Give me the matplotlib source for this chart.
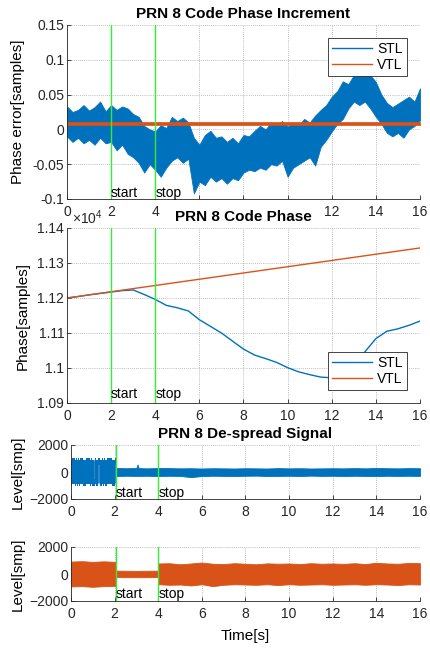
import numpy as np
import matplotlib
matplotlib.use('Agg')
import matplotlib.pyplot as plt
from matplotlib.lines import Line2D
from matplotlib.ticker import FuncFormatter

plt.rcParams['font.family'] = ['Liberation Sans', 'DejaVu Sans']
plt.rcParams['mathtext.fontset'] = 'custom'
plt.rcParams['mathtext.rm'] = 'Liberation Sans'

BLUE = '#0072BD'
ORANGE = '#D95319'
GREEN = '#33EE33'
AXC = '#262626'

# ---------------- data ----------------
start_t, stop_t = 2.0, 4.0
start_t_sig = 2.05

# Panel 1: code phase increment error envelope (STL) and VTL band
env_t = [0, 0.25, 0.5, 0.75, 1.0, 1.25, 1.5, 1.75, 2.0, 2.25, 2.5, 2.75, 3.0, 3.25,
         3.5, 3.75, 4.0, 4.25, 4.5, 4.75, 5.0, 5.25, 5.5, 5.75, 6.0, 6.25, 6.5, 6.75,
         7.0, 7.25, 7.5, 7.75, 8.0, 8.25, 8.5, 8.75, 9.0, 9.25, 9.5, 9.75, 10.0,
         10.25, 10.5, 10.75, 11.0, 11.25, 11.5, 11.75, 12.0, 12.25, 12.5, 12.75, 13.0,
         13.25, 13.5, 13.75, 14.0, 14.25, 14.5, 14.75, 15.0, 15.25, 15.5, 15.75, 16.0]
stl_err_hi = [0.033, 0.025, 0.028, 0.035, 0.027, 0.032, 0.040, 0.026, 0.035, 0.028,
              0.033, 0.030, 0.022, 0.018, 0.005, 0.000, -0.003, 0.006, 0.002, 0.018,
              0.012, 0.017, 0.010, -0.012, -0.022, -0.008, -0.002, -0.012, -0.010,
              -0.018, -0.012, -0.020, -0.008, -0.010, -0.002, 0.005, 0.000, 0.010,
              0.006, 0.012, 0.004, 0.010, 0.006, 0.015, 0.010, 0.020, 0.028, 0.035,
              0.047, 0.055, 0.069, 0.065, 0.078, 0.082, 0.088, 0.078, 0.068, 0.050,
              0.038, 0.032, 0.037, 0.042, 0.047, 0.040, 0.059]
stl_err_lo = [-0.010, -0.018, -0.012, -0.020, -0.015, -0.022, -0.012, -0.020, -0.018,
              -0.030, -0.022, -0.035, -0.040, -0.048, -0.062, -0.050, -0.058, -0.068,
              -0.055, -0.045, -0.040, -0.048, -0.042, -0.092, -0.075, -0.080, -0.068,
              -0.075, -0.070, -0.078, -0.070, -0.073, -0.062, -0.058, -0.060, -0.055,
              -0.058, -0.050, -0.052, -0.045, -0.068, -0.055, -0.050, -0.045, -0.040,
              -0.052, -0.025, -0.015, -0.003, 0.008, 0.015, 0.030, 0.040, 0.035, 0.040,
              0.030, 0.018, 0.008, -0.005, -0.010, -0.005, -0.012, 0.000, 0.005, 0.013]
vtl_err_t = [0, 16]
vtl_err_hi = [0.0112, 0.0112]
vtl_err_lo = [0.0065, 0.0065]

# Panel 2: code phase
phase_t = [0, 0.5, 1, 1.5, 2, 2.5, 3, 3.5, 4, 4.5, 5, 5.5, 6, 6.5, 7, 7.5, 8, 8.5,
           9, 9.5, 10, 10.5, 11, 11.5, 12, 12.5, 13, 13.5, 14, 14.5, 15, 15.5, 16]
stl_phase = [11200, 11204, 11209, 11213, 11217, 11221, 11223, 11210, 11196, 11179,
             11172, 11163, 11138, 11119, 11100, 11077, 11054, 11037, 11027, 11016,
             11001, 10989, 10981, 10974, 10972, 10985, 11010, 11046, 11084, 11105,
             11112, 11122, 11134]
vtl_phase_t = [0, 16]
vtl_phase = [11200, 11343]

# Panel 3: STL de-spread signal
bit_len = 0.02
nav_bits = [1, -1, -1, 1, -1, 1, 1, -1, 1, -1, -1, -1, 1, 1, -1, 1, -1, 1, -1, -1,
            1, 1, 1, -1, 1, -1, 1, -1, -1, 1, -1, 1, 1, -1, -1, 1, -1, 1, -1, 1,
            1, -1, 1, -1, -1, 1, 1, -1, 1, -1, 1, -1, -1, -1, 1, -1, 1, 1, -1, 1,
            -1, 1, -1, 1, 1, 1, -1, -1, 1, -1, 1, -1, 1, -1, -1, 1, 1, -1, 1, -1,
            1, -1, -1, 1, -1, 1, 1, -1, 1, -1, 1, -1, 1, 1, -1, -1, 1, -1, 1, -1,
            1, -1, 1]
bit_amp = 800
bit_noise = 250
stl_sig_t = [2.05, 2.5, 3.0, 3.05, 3.1, 3.5, 4, 4.5, 5, 5.5, 6, 6.5, 7, 7.5, 8, 8.5,
             9, 9.5, 10, 10.5, 11, 11.5, 12, 12.5, 13, 13.5, 14, 14.5, 15, 15.5, 16]
stl_sig_hi = [300, 280, 300, 560, 290, 270, 300, 290, 270, 280, 260, 280, 270, 260,
              280, 270, 260, 290, 270, 280, 260, 270, 280, 270, 290, 270, 300, 280,
              270, 290, 280]
stl_sig_lo = [-300, -280, -290, -280, -290, -280, -300, -280, -290, -380, -300, -280,
              -290, -300, -280, -270, -300, -290, -280, -300, -270, -290, -280, -300,
              -280, -290, -300, -280, -290, -280, -290]

# Panel 4: VTL de-spread signal
vtl_sig_t = [0, 0.5, 1, 1.5, 2.05, 2.05, 3, 4.0, 4.0, 4.5, 5, 5.5, 6, 6.5, 7, 7.5, 8,
             8.5, 9, 9.5, 10, 10.5, 11, 11.5, 12, 12.5, 13, 13.5, 14, 14.5, 15, 15.5, 16]
vtl_sig_hi = [920, 950, 900, 940, 900, 250, 230, 250, 780, 800, 720, 780, 850, 760,
              740, 800, 760, 720, 790, 760, 780, 740, 800, 760, 780, 750, 800, 740,
              830, 780, 760, 820, 800]
vtl_sig_lo = [-920, -900, -950, -900, -900, -230, -240, -230, -760, -800, -780, -850,
              -760, -900, -800, -760, -780, -800, -760, -820, -760, -800, -780, -760,
              -800, -780, -760, -800, -760, -780, -820, -760, -780]

xticks = list(range(0, 17, 2))
xticklabels_top = ['0', '2', '4', '', '', '', '12', '14', '16']

# ---------------- figure ----------------
W, H = 431, 652
fig = plt.figure(figsize=(W / 100, H / 100), dpi=100)


def ax_at(l, t, r, b):
    return fig.add_axes([l / W, 1 - b / H, (r - l) / W, (b - t) / H])


def style(ax):
    for s in ['top', 'right']:
        ax.spines[s].set_visible(False)
    for s in ['left', 'bottom']:
        ax.spines[s].set_color(AXC)
        ax.spines[s].set_linewidth(0.6)
    ax.tick_params(direction='in', length=3, width=0.6, colors=AXC,
                   labelsize=10, labelcolor=AXC)
    ax.tick_params(axis='x', pad=4)
    ax.tick_params(axis='y', pad=2)
    ax.grid(True, linestyle=(0, (1, 1.5)), color='#a8a8a8', linewidth=0.6)
    ax.set_axisbelow(True)
    ax.set_xlim(0, 16)
    ax.set_xticks(xticks)


def markers(ax, y, t0, t1):
    ax.axvline(t0, color=GREEN, lw=1.0, zorder=5)
    ax.axvline(t1, color=GREEN, lw=1.0, zorder=5)
    ax.text(t0, y, 'start', fontsize=10, va='center', ha='left', zorder=6)
    ax.text(t1, y, 'stop', fontsize=10, va='center', ha='left', zorder=6)


def legend(ax, loc, anchor):
    h = [Line2D([], [], color=BLUE, lw=1), Line2D([], [], color=ORANGE, lw=1)]
    lg = ax.legend(h, ['STL', 'VTL'], loc=loc, bbox_to_anchor=anchor,
                   bbox_transform=ax.transAxes, borderaxespad=0, fontsize=10,
                   fancybox=False, framealpha=1, edgecolor=AXC,
                   handlelength=2.9, handletextpad=0.35, labelspacing=0.15,
                   borderpad=0.3)
    lg.get_frame().set_linewidth(0.6)
    lg.set_zorder(10)


# Panel 1
ax1 = ax_at(67, 25, 420, 199)
style(ax1)
ax1.fill_between(env_t, stl_err_lo, stl_err_hi, color=BLUE, lw=0.6, edgecolor=BLUE)
ax1.fill_between(vtl_err_t, vtl_err_lo, vtl_err_hi, color=ORANGE, lw=0.5, edgecolor=ORANGE)
ax1.set_ylim(-0.1, 0.15)
ax1.set_yticks([-0.1, -0.05, 0, 0.05, 0.1, 0.15])
ax1.set_xticklabels(xticklabels_top)
ax1.yaxis.set_major_formatter(FuncFormatter(lambda v, p: f'{v:g}'))
markers(ax1, -0.091, start_t, stop_t)
ax1.set_title('PRN 8 Code Phase Increment', fontsize=11, fontweight='bold', pad=5)
ax1.set_ylabel('Phase error[samples]', fontsize=11)
ax1.yaxis.set_label_coords(-0.119, 0.5)
legend(ax1, 'upper right', (0.963, 0.925))

# Panel 2
ax2 = ax_at(67, 228, 420, 403)
style(ax2)
ax2.plot(phase_t, stl_phase, color=BLUE, lw=1)
ax2.plot(vtl_phase_t, vtl_phase, color=ORANGE, lw=1)
ax2.set_ylim(10900, 11400)
ax2.set_yticks([10900, 11000, 11100, 11200, 11300, 11400])
ax2.yaxis.set_major_formatter(FuncFormatter(lambda v, p: f'{v / 1e4:g}'))
ax2.text(0.014, 1.057, r'$\times\mathregular{10^4}$', transform=ax2.transAxes,
         fontsize=10, color=AXC, va='center', ha='left')
markers(ax2, 10926, start_t, stop_t)
ax2.set_title('PRN 8 Code Phase', fontsize=11, fontweight='bold', pad=5)
ax2.set_ylabel('Phase[samples]', fontsize=11)
ax2.yaxis.set_label_coords(-0.105, 0.5)
legend(ax2, 'lower right', (0.963, 0.074))

# Panel 3
ax3 = ax_at(71, 445, 420, 499)
style(ax3)
bits = np.array(nav_bits, dtype=float)
edges = np.arange(len(bits) + 1) * bit_len
edges[-1] = start_t_sig
lvl = np.append(bits, bits[-1]) * bit_amp
ax3.fill_between(edges, lvl - bit_noise, lvl + bit_noise, step='post', color=BLUE, lw=0)
ax3.step(edges, lvl, where='post', color=BLUE, lw=1.2)
ax3.fill_between(stl_sig_t, stl_sig_lo, stl_sig_hi, color=BLUE, lw=0.6, edgecolor=BLUE)
ax3.set_ylim(-2000, 2000)
ax3.set_yticks([-2000, 0, 2000])
markers(ax3, -1530, start_t_sig, stop_t)
ax3.set_title('PRN 8 De-spread Signal', fontsize=11, fontweight='bold', pad=5)
ax3.set_ylabel('Level[smp]', fontsize=11)
ax3.yaxis.set_label_coords(-0.132, 0.5)

# Panel 4
ax4 = ax_at(71, 547, 420, 601)
style(ax4)
ax4.fill_between(vtl_sig_t, vtl_sig_lo, vtl_sig_hi, color=ORANGE, lw=0.6, edgecolor=ORANGE)
ax4.set_ylim(-2000, 2000)
ax4.set_yticks([-2000, 0, 2000])
markers(ax4, -1480, start_t_sig, stop_t)
ax4.set_ylabel('Level[smp]', fontsize=11)
ax4.yaxis.set_label_coords(-0.132, 0.5)
ax4.set_xlabel('Time[s]', fontsize=11)
ax4.xaxis.set_label_coords(0.5, -0.52)
ax4.xaxis.label.set_va('top')

fig.savefig('out.png', dpi=100, facecolor='white')
